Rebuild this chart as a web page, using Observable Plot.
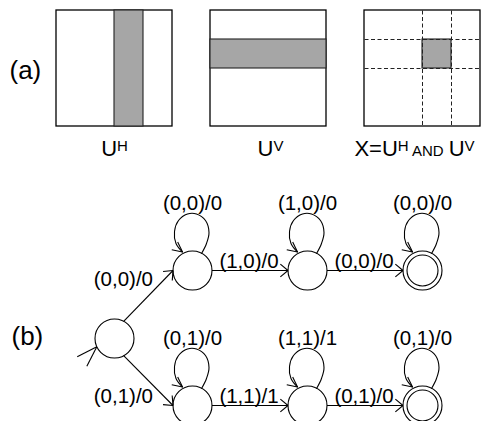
<!DOCTYPE html>
<html><head><meta charset="utf-8">
<script src="https://cdn.jsdelivr.net/npm/d3@7"></script>
<script src="https://cdn.jsdelivr.net/npm/@observablehq/plot@0.6"></script>
<style>html,body{margin:0;padding:0;background:#fff}</style>
</head><body><div id="chart"></div>
<script>
// ---------- data: part (a) ----------
const gridCells = 4;                 // each square is a 4x4 grid
const uhColumn = 2;                  // shaded column of U^H
const uvRow = 1;                     // shaded row of U^V
const panelIds = ["UH", "UV", "X"];
const panelLabels = [
  [{t: "U"}, {t: "H", sup: true}],
  [{t: "U"}, {t: "V", sup: true}],
  [{t: "X=U"}, {t: "H", sup: true}, {t: " AND ", small: true}, {t: "U"}, {t: "V", sup: true}]
];
const partLabels = ["(a)", "(b)"];

// ---------- data: part (b) automaton ----------
const states = ["s0", "a1", "a2", "a3", "b1", "b2", "b3"];
const accepting = ["a3", "b3"];
const initialState = "s0";
const transitions = [
  {from: "s0", to: "a1", label: "(0,0)/0"},
  {from: "s0", to: "b1", label: "(0,1)/0"},
  {from: "a1", to: "a2", label: "(1,0)/0"},
  {from: "a2", to: "a3", label: "(0,0)/0"},
  {from: "b1", to: "b2", label: "(1,1)/1"},
  {from: "b2", to: "b3", label: "(0,1)/0"}
];
const selfLoops = [
  {state: "a1", label: "(0,0)/0"},
  {state: "a2", label: "(1,0)/0"},
  {state: "a3", label: "(0,0)/0"},
  {state: "b1", label: "(0,1)/0"},
  {state: "b2", label: "(1,1)/1"},
  {state: "b3", label: "(0,1)/0"}
];

// ---------- layout ----------
const W = 494, H = 421;
const font = '"Liberation Sans", Arial, Helvetica, sans-serif';
const panelLeft = [56, 210, 364], panelTop = 10, panelSize = 116;
const labelShift = [0, 2, -8];
const cell = panelSize / gridCells;
const panelLabelBaseline = 155, bigSize = 22, smallSize = 15, supRaise = 5;
const statePos = {s0: [114, 338], a1: [192, 270], a2: [307, 270], a3: [422, 270],
                  b1: [192, 405], b2: [307, 405], b3: [422, 405]};
const R = 19.5, Rin = 15.5;
const startPort = {s0a1: -62, s0b1: 62};          // degrees, screen coords
const edgeFont = 20.5, partFont = 26;

const ctx = document.createElement("canvas").getContext("2d");
const measure = (t, s) => { ctx.font = `${s}px ${font}`; return ctx.measureText(t).width; };
const texts = [];
function addText(t, x, baseline, size, anchor = "middle") {
  let x0 = x;
  const w = measure(t, size);
  if (anchor === "middle") x0 = x - w / 2; else if (anchor === "end") x0 = x - w;
  texts.push({text: t, x: x0, y: baseline - 0.32 * size, size});
}
function addRich(parts, cx, baseline) {
  const sizes = parts.map(p => (p.sup || p.small) ? smallSize : bigSize);
  const widths = parts.map((p, i) => measure(p.t, sizes[i]));
  let x = cx - d3.sum(widths) / 2;
  parts.forEach((p, i) => {
    texts.push({text: p.t, x, y: baseline - (p.sup ? supRaise : 0) - 0.32 * sizes[i], size: sizes[i]});
    x += widths[i];
  });
}

// part (a) geometry
const frames = panelIds.map((id, i) => ({x1: panelLeft[i], x2: panelLeft[i] + panelSize, y1: panelTop, y2: panelTop + panelSize}));
const shaded = [
  {x1: panelLeft[0] + uhColumn * cell, x2: panelLeft[0] + (uhColumn + 1) * cell, y1: panelTop, y2: panelTop + panelSize},
  {x1: panelLeft[1], x2: panelLeft[1] + panelSize, y1: panelTop + uvRow * cell, y2: panelTop + (uvRow + 1) * cell},
  {x1: panelLeft[2] + uhColumn * cell, x2: panelLeft[2] + (uhColumn + 1) * cell, y1: panelTop + uvRow * cell, y2: panelTop + (uvRow + 1) * cell}
];
const dashed = [];
[uhColumn, uhColumn + 1].forEach(c => dashed.push({x1: panelLeft[2] + c * cell, x2: panelLeft[2] + c * cell, y1: panelTop, y2: panelTop + panelSize}));
[uvRow, uvRow + 1].forEach(r => dashed.push({x1: panelLeft[2], x2: panelLeft[2] + panelSize, y1: panelTop + r * cell, y2: panelTop + r * cell}));
panelIds.forEach((id, i) => addRich(panelLabels[i], panelLeft[i] + panelSize / 2 + labelShift[i], panelLabelBaseline));
addText(partLabels[0], 9, 78, partFont, "start");
addText(partLabels[1], 11, 344, partFont, "start");

// part (b) geometry
const rad = a => a * Math.PI / 180;
const segs = [];
function head(tx, ty, ang, len, half) {
  [ang + half, ang - half].forEach(b => segs.push({x1: tx, y1: ty, x2: tx - len * Math.cos(rad(b)), y2: ty - len * Math.sin(rad(b))}));
}
transitions.forEach(e => {
  const [sx, sy] = statePos[e.from], [tx, ty] = statePos[e.to];
  const sp = startPort[e.from + e.to] ?? 0;
  const x1 = sx + R * Math.cos(rad(sp)), y1 = sy + R * Math.sin(rad(sp));
  const x2 = tx - R, y2 = ty;
  segs.push({x1, y1, x2, y2});
  const ang = Math.atan2(y2 - y1, x2 - x1) * 180 / Math.PI;
  head(x2, y2, ang, 10, 40);
  if (Math.abs(y2 - y1) < 1) addText(e.label, (x1 + x2) / 2 - 1, y2 - 3, edgeFont);
  else addText(e.label, x2 - 20, y2 < y1 ? y2 + 15 : y2 - 3, edgeFont, "end");
});
const loopShape = [[9.2, -17.2], [14, -27], [16.5, -38], [13, -50], [4, -56.5], [-5, -56.5], [-14, -50], [-18, -39], [-16.5, -27], [-10, -18.5]];
const loopPts = [];
selfLoops.forEach((l, k) => {
  const [cx, cy] = statePos[l.state];
  loopShape.forEach(([dx, dy]) => loopPts.push({x: cx + dx, y: cy + dy, k}));
  const [ex, ey] = loopShape[loopShape.length - 1];
  head(cx + ex, cy + ey, 38, 11, 26);
  addText(l.label, cx, cy - 61, edgeFont);
});
// initial arrow head (no shaft)
{
  const [sx, sy] = statePos[initialState];
  head(sx - R * Math.cos(rad(25)), sy + R * Math.sin(rad(25)), -45, 22, 18);
}
const nodes = states.map(s => ({id: s, x: statePos[s][0], y: statePos[s][1]}));
const inner = nodes.filter(n => accepting.includes(n.id));

const chart = Plot.plot({
  width: W, height: H, margin: 0,
  x: {domain: [0, W], range: [0, W], axis: null},
  y: {domain: [0, H], range: [0, H], axis: null},
  style: {background: "#fff", overflow: "visible"},
  marks: [
    Plot.rect(frames, {x1: "x1", x2: "x2", y1: "y1", y2: "y2", fill: "white", stroke: "black", strokeWidth: 1.3}),
    Plot.rect(shaded, {x1: "x1", x2: "x2", y1: "y1", y2: "y2", fill: "#a6a6a6", stroke: "#222", strokeWidth: 1.1}),
    Plot.link(dashed, {x1: "x1", x2: "x2", y1: "y1", y2: "y2", stroke: "#222", strokeWidth: 1, strokeDasharray: "4,2.5"}),
    Plot.line(loopPts, {x: "x", y: "y", z: "k", curve: "catmull-rom", stroke: "black", strokeWidth: 1.1}),
    Plot.link(segs, {x1: "x1", x2: "x2", y1: "y1", y2: "y2", stroke: "black", strokeWidth: 1.1}),
    Plot.dot(nodes, {x: "x", y: "y", r: R, fill: "none", stroke: "black", strokeWidth: 1.1}),
    Plot.dot(inner, {x: "x", y: "y", r: Rin, fill: "none", stroke: "black", strokeWidth: 1.1}),
    Plot.text(texts, {x: "x", y: "y", text: "text", fontSize: "size", textAnchor: "start", fill: "black", fontFamily: font})
  ]
});
document.getElementById("chart").appendChild(chart);
</script>
</body></html>
